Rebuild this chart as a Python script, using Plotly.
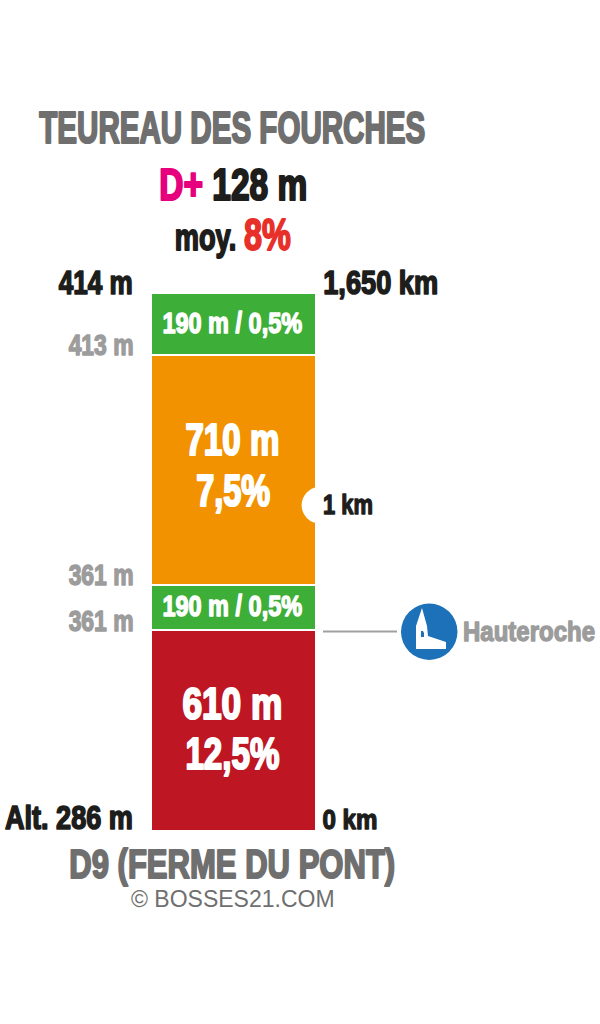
import json
import plotly.graph_objects as go

# Data (bottom to top)
segment_lengths_m = [620, 140, 710, 190]
segment_colors = ["#BE1622", "#3DAE37", "#F39200", "#3DAE37"]
km_mark_position = [1005]
total_length = sum(segment_lengths_m)

W, H = 600, 1024
BASE = "Liberation Sans, Arial, sans-serif"
BLACK = "#1D1D1B"
GRAY = "#706F6F"
LIGHT = "#9D9C9C"


def px(x):
    return x / W


def py(y):
    return 1 - y / H


fig = go.Figure()
for length, color in zip(segment_lengths_m, segment_colors):
    fig.add_trace(go.Bar(
        x=[0], y=[length], width=1, marker=dict(color=color, line=dict(color="white", width=2)),
        hoverinfo="skip", showlegend=False,
    ))

fig.add_trace(go.Scatter(
    x=[0.525], y=km_mark_position, mode="markers", cliponaxis=False,
    marker=dict(color="white", size=37), hoverinfo="skip", showlegend=False,
))

widths = {}


def label(text, x0, x1, y, size, color):
    """Text fitted between x0 and x1 (the browser squeezes it to that width)."""
    fig.add_annotation(
        text=text, x=px((x0 + x1) / 2), y=py(y), xref="paper", yref="paper",
        xanchor="center", yanchor="middle", showarrow=False,
        font=dict(family=BASE, size=size, color=color, weight="bold"),
    )
    widths[len(widths)] = x1 - x0


label("TEUREAU DES FOURCHES", 40, 426, 127, 44, GRAY)
label("<span style='color:#E6007E'>D+</span> 128 m", 159, 307, 184, 44, BLACK)
label("moy. <span style='color:#E7302A;font-size:44px'>8%</span>", 175, 291, 234, 37, BLACK)
label("414 m", 59, 133, 282, 33, BLACK)
label("413 m", 68, 133, 345, 29, LIGHT)
label("361 m", 68, 133, 575, 29, LIGHT)
label("361 m", 68, 133, 621, 29, LIGHT)
label("Alt. 286 m", 5, 133, 817, 33, BLACK)
label("1,650 km", 323, 438, 282, 33, BLACK)
label("1 km", 323, 373, 504, 28, BLACK)
label("0 km", 323, 378, 819, 28, BLACK)
label("Hauteroche", 463, 595, 631, 28, LIGHT)
label("D9 (FERME DU PONT)", 70, 396, 864, 41, GRAY)
label("190 m / 0,5%", 163, 303, 323, 29, "white")
label("190 m / 0,5%", 163, 303, 606, 29, "white")
label("710 m", 186, 280, 439, 44, "white")
label("7,5%", 196, 270, 490, 44, "white")
label("610 m", 183, 283, 703, 44, "white")
label("12,5%", 186, 280, 753, 44, "white")

fig.add_annotation(
    text="© BOSSES21.COM", x=px(232.5), y=py(899), xref="paper", yref="paper", showarrow=False,
    xanchor="center", yanchor="middle",
    font=dict(family=BASE, size=23, color=GRAY),
)


def path(points):
    return "M" + " L".join(f"{px(x):.5f},{py(y):.5f}" for x, y in points) + " Z"


church = [(422, 608), (416, 626), (416, 649), (446, 649), (446, 642), (428, 636), (427, 626)]
window = [(421, 631), (423, 631), (424, 633), (424, 637), (421, 637), (421, 633)]
fig.update_layout(
    width=W, height=H, margin=dict(l=0, r=0, t=0, b=0), barmode="stack",
    paper_bgcolor="white", plot_bgcolor="white",
    xaxis=dict(domain=[px(151), px(346)], range=[-0.5, 0.5 + 30 / 165], visible=False, fixedrange=True),
    yaxis=dict(domain=[py(831), py(293)], range=[0, total_length], visible=False, fixedrange=True),
    shapes=[
        dict(type="line", xref="paper", yref="paper", x0=px(323), x1=px(397), y0=py(631.5), y1=py(631.5),
             line=dict(color="#A0A0A0", width=2)),
        dict(type="circle", xref="paper", yref="paper", x0=px(401), x1=px(457.5), y0=py(660), y1=py(603.5),
             fillcolor="#1D71B8", line=dict(width=0)),
        dict(type="path", xref="paper", yref="paper", path=path(church), fillcolor="white", line=dict(width=0)),
        dict(type="path", xref="paper", yref="paper", path=path(window), fillcolor="#1D71B8", line=dict(width=0)),
    ],
)

post = """
document.body.style.margin='0';document.body.style.overflow='hidden';
var W = %s;
var texts = document.querySelectorAll('.annotation-text');
texts.forEach(function(t, i){
  if (W[i] === undefined) return;
  var size = parseFloat(getComputedStyle(t).fontSize);
  var sw = (size * 0.05) + 'px';
  [t].concat(Array.from(t.querySelectorAll('tspan'))).forEach(function(e){
    var s = getComputedStyle(e);
    e.style.stroke = s.fill; e.style.strokeWidth = sw; e.style.strokeLinejoin = 'round';
  });
  var b = t.getBBox();
  var k = W[i] / b.width;
  var cx = b.x + b.width / 2;
  var old = t.getAttribute('transform') || '';
  t.setAttribute('transform', old + ' translate(' + cx + ',0) scale(' + k + ',1) translate(' + (-cx) + ',0)');
});
""" % json.dumps(widths)

fig.write_html("out.html", config={"displayModeBar": False}, post_script=post)
